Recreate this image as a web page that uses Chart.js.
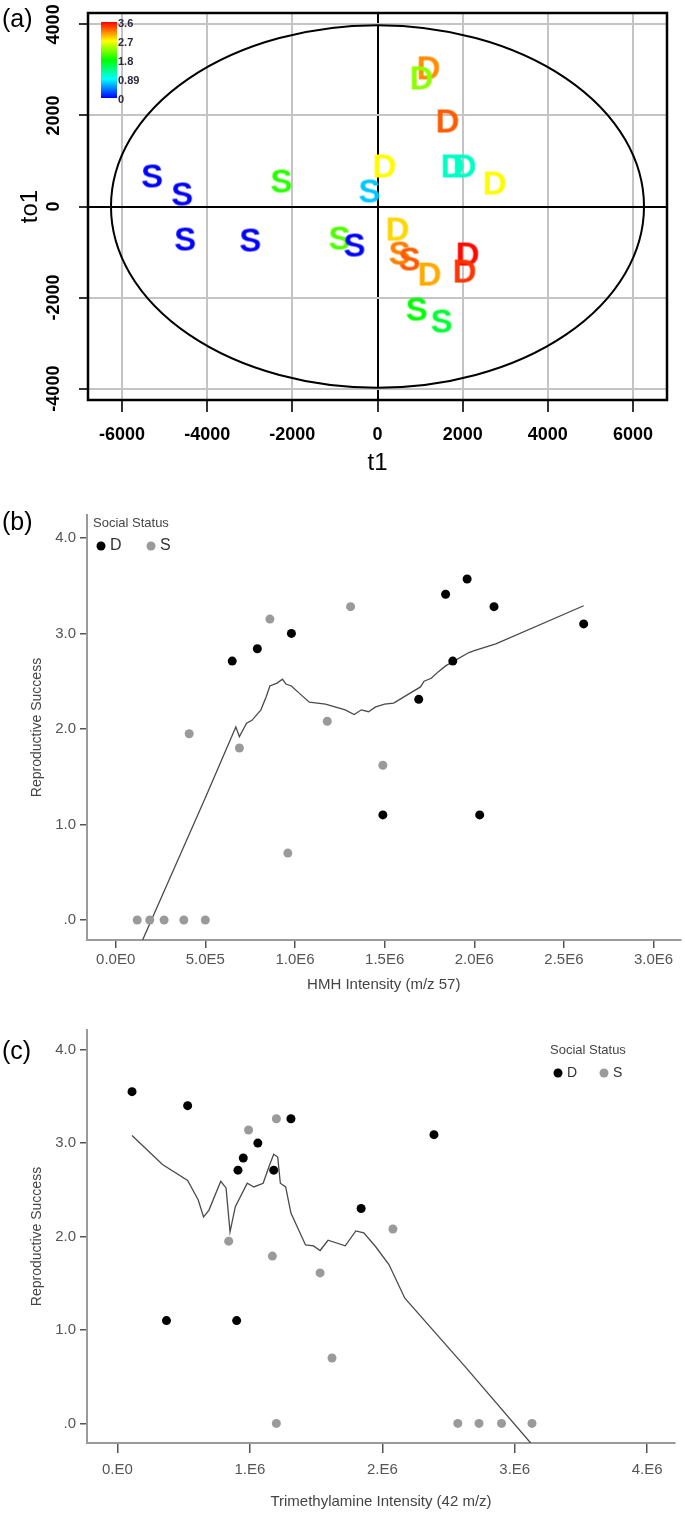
<!DOCTYPE html>
<html>
<head>
<meta charset="utf-8">
<script src="https://cdn.jsdelivr.net/npm/chart.js@4"></script>
<style>
  body { margin: 0; background: #fff; width: 685px; height: 1513px; position: relative; overflow: hidden; }
  canvas { position: absolute; left: 0; }
</style>
</head>
<body>
<canvas id="plsChart" width="685" height="485" style="top:0px"></canvas>
<canvas id="hmhChart" width="685" height="510" style="top:490px"></canvas>
<canvas id="tmaChart" width="685" height="508" style="top:1005px"></canvas>
<script>
/* (a) OPLS-DA scores, letter = social status, colour = reproductive success */
const plsGroup = ['S','S','S','S','S','S','S','S','D','D','D','D','D','D','D','D','S','S','D','D','D','S','S'];
const plsT1    = [-5294,-4588,-2259,-188,-4518,-2988,-894,-541, 1200,1035,1647,165,1765,2047,2753,471, 518,753,1224,2118,2047, 918,1506];
const plsTo1   = [681,286,571,352,-703,-725,-681,-835, 3055,2835,1890,901,901,901,527,-484, -1011,-1143,-1473,-1033,-1407, -2242,-2505];
const plsRS    = [0,0,1.95,0.7,0,0,2.08,0, 3.1,2.3,3.28,2.71,1.1,1.1,2.71,2.84, 3.15,3.28,3.0,3.57,3.41, 1.8,1.62];
const t1Ticks  = [-6000,-4000,-2000,0,2000,4000,6000];
const to1Ticks = [-4000,-2000,0,2000,4000];
const colorbarTicks = [3.6, 2.7, 1.8, 0.89, 0];
const ellipseAxes = [6260, 3980];

/* (b) HMH intensity vs reproductive success */
const hmhDomX = [0.65e6,0.79e6,0.98e6,1.69e6,1.88e6,1.84e6,1.96e6,2.11e6,2.61e6,1.49e6,2.03e6];
const hmhDomY = [2.71,2.84,3.0,2.31,2.71,3.41,3.57,3.28,3.10,1.1,1.1];
const hmhSubX = [0.12e6,0.19e6,0.27e6,0.38e6,0.50e6,0.41e6,0.69e6,0.86e6,1.31e6,1.18e6,1.49e6,0.96e6];
const hmhSubY = [0,0,0,0,0,1.95,1.80,3.15,3.28,2.08,1.62,0.70];
const hmhFitX = [0.15e6,0.50e6,0.67e6,0.69e6,0.73e6,0.76e6,0.81e6,0.84e6,0.86e6,0.90e6,0.93e6,0.95e6,0.98e6,1.02e6,1.08e6,1.17e6,1.28e6,1.33e6,1.37e6,1.41e6,1.45e6,1.50e6,1.55e6,1.70e6,1.72e6,1.76e6,1.80e6,1.84e6,1.97e6,2.00e6,2.12e6,2.61e6];
const hmhFitY = [-0.21,1.28,2.02,1.92,2.06,2.09,2.20,2.34,2.45,2.48,2.52,2.47,2.45,2.38,2.28,2.26,2.20,2.15,2.20,2.18,2.23,2.26,2.27,2.44,2.50,2.53,2.60,2.66,2.80,2.82,2.89,3.29];
const hmhTicks = [0,500000,1000000,1500000,2000000,2500000,3000000];

/* (c) trimethylamine intensity vs reproductive success */
const tmaDomX = [0.11e6,0.53e6,1.31e6,1.06e6,0.95e6,0.91e6,1.18e6,1.84e6,2.39e6,0.37e6,0.90e6];
const tmaDomY = [3.55,3.40,3.26,3.0,2.84,2.71,2.71,2.30,3.09,1.10,1.10];
const tmaSubX = [0.99e6,1.20e6,2.08e6,0.84e6,1.17e6,1.53e6,1.62e6,1.20e6,2.57e6,2.73e6,2.90e6,3.13e6];
const tmaSubY = [3.14,3.26,2.08,1.95,1.79,1.61,0.70,0,0,0,0,0];
const tmaFitX = [0.11e6,0.34e6,0.53e6,0.61e6,0.65e6,0.69e6,0.78e6,0.82e6,0.85e6,0.89e6,0.98e6,1.03e6,1.10e6,1.15e6,1.18e6,1.21e6,1.23e6,1.27e6,1.31e6,1.42e6,1.48e6,1.53e6,1.59e6,1.72e6,1.80e6,1.86e6,1.95e6,2.05e6,2.17e6,2.63e6,3.12e6];
const tmaFitY = [3.08,2.77,2.60,2.39,2.21,2.28,2.59,2.52,2.05,2.32,2.57,2.53,2.57,2.77,2.88,2.85,2.57,2.53,2.25,1.91,1.90,1.85,1.96,1.90,2.06,2.04,1.89,1.70,1.34,0.60,-0.21];
const tmaTicks = [0,1000000,2000000,3000000,4000000];

const rsTicks = [0,1,2,3,4];

const FONT = '"Liberation Sans", Arial, sans-serif';

// blue -> cyan -> green -> yellow -> red over 0..3.6
function rainbow(v) {
    const stops = [[0,0,255],[0,255,255],[0,255,0],[255,255,0],[255,0,0]];
    const t = Math.max(0, Math.min(1, v / 3.6)) * 4;
    const i = Math.min(3, Math.floor(t)), f = t - i;
    const a = stops[i], b = stops[i + 1];
    return 'rgb(' + a.map((c, k) => Math.round(c + (b[k] - c) * f)).join(',') + ')';
}

function letterSprite(letter, color) {
    const c = document.createElement('canvas');
    c.width = 32; c.height = 34;
    const g = c.getContext('2d');
    g.font = 'bold 33px ' + FONT;
    g.fillStyle = color;
    g.textAlign = 'center';
    g.textBaseline = 'alphabetic';
    g.fillText(letter, 16, 17 + 0.716 * 33 / 2);
    return c;
}

function fixedTicks(values) {
    return s => { s.ticks = values.map(v => ({ value: v })); };
}

const plsDecor = {
    id: 'plsDecor',
    beforeDatasetsDraw(chart) {
        const { ctx, scales: { x, y } } = chart;
        const cx = x.getPixelForValue(0), cy = y.getPixelForValue(0);
        ctx.save();
        ctx.beginPath();
        ctx.ellipse(cx, cy, x.getPixelForValue(ellipseAxes[0]) - cx, cy - y.getPixelForValue(ellipseAxes[1]), 0, 0, 2 * Math.PI);
        ctx.lineWidth = 2;
        ctx.strokeStyle = '#000';
        ctx.stroke();
        ctx.restore();
    },
    afterDraw(chart) {
        const { ctx, chartArea: { left, top, right, bottom }, scales: { y } } = chart;
        ctx.save();
        ctx.strokeStyle = '#000';
        ctx.lineWidth = 2.5;
        ctx.strokeRect(left, top, right - left, bottom - top);

        // rotated y tick labels
        ctx.font = 'bold 18px ' + FONT;
        ctx.fillStyle = '#000';
        ctx.textAlign = 'center';
        ctx.textBaseline = 'middle';
        y.ticks.forEach(t => {
            ctx.save();
            ctx.translate(left - 34, y.getPixelForValue(t.value));
            ctx.rotate(-Math.PI / 2);
            ctx.fillText(String(t.value), 0, 0);
            ctx.restore();
        });

        // colour key
        const kx = 101, ky = 22, kw = 16, kh = 76;
        const grad = ctx.createLinearGradient(0, ky + kh, 0, ky);
        for (let i = 0; i <= 8; i++) grad.addColorStop(i / 8, rainbow(3.6 * i / 8));
        ctx.fillStyle = grad;
        ctx.fillRect(kx, ky, kw, kh);
        ctx.font = 'bold 11px ' + FONT;
        ctx.fillStyle = '#2a2a3a';
        ctx.textAlign = 'left';
        colorbarTicks.forEach(v => {
            ctx.fillText(String(v), kx + kw + 1, ky + 2 + (3.6 - v) / 3.6 * kh);
        });

        ctx.font = '25px ' + FONT;
        ctx.fillStyle = '#000';
        ctx.fillText('(a)', 2, 20);
        ctx.restore();
    }
};

new Chart(document.getElementById('plsChart'), {
    type: 'scatter',
    data: {
        datasets: [{
            label: 'OPLS-DA scores',
            data: plsT1.map((v, i) => ({ x: v, y: plsTo1[i] })),
            pointStyle: plsGroup.map((g, i) => letterSprite(g, rainbow(plsRS[i]))),
            pointRadius: 10,
        }]
    },
    options: {
        responsive: false,
        animation: false,
        layout: { padding: { top: 13, right: 18, left: 0, bottom: 0 } },
        plugins: { legend: { display: false }, tooltip: { enabled: false } },
        scales: {
            x: {
                min: -6800, max: 6800,
                afterBuildTicks: fixedTicks(t1Ticks),
                ticks: { maxRotation: 0, autoSkip: false, padding: 12, color: '#000',
                         font: { family: FONT, size: 18, weight: 'bold' }, callback: v => String(v) },
                grid: { color: c => c.tick && c.tick.value === 0 ? '#000' : '#c4c4c4', lineWidth: 2, tickColor: '#333', tickLength: 12 },
                border: { display: false },
                title: { display: true, text: 't1', color: '#000', font: { family: FONT, size: 24, lineHeight: 1 }, padding: { bottom: 10 } },
                afterFit(s) { s.height = 85; s.paddingLeft = 0; s.paddingRight = 0; }
            },
            y: {
                min: -4250, max: 4250,
                afterBuildTicks: fixedTicks(to1Ticks),
                ticks: { display: false },
                grid: { color: c => c.tick && c.tick.value === 0 ? '#000' : '#c4c4c4', lineWidth: 2, tickColor: '#333', tickLength: 9 },
                border: { display: false },
                title: { display: true, text: 'to1', color: '#000', font: { family: FONT, size: 24, lineHeight: 1 }, padding: { top: 18 } },
                afterFit(s) { s.width = 88; s.paddingTop = 0; s.paddingBottom = 0; }
            }
        }
    },
    plugins: [plsDecor]
});

/* (b), (c) */
const statusLegend = {
    id: 'statusLegend',
    afterDraw(chart, args, opts) {
        const { ctx } = chart;
        ctx.save();
        ctx.textBaseline = 'middle';
        ctx.textAlign = 'left';
        ctx.font = '13px ' + FONT;
        ctx.fillStyle = '#444';
        ctx.fillText('Social Status', opts.x, opts.y);
        chart.data.datasets.filter(d => !d.showLine).forEach((d, i) => {
            const cx = opts.x + 8 + i * opts.gap;
            ctx.beginPath();
            ctx.arc(cx, opts.y + 23, 4.5, 0, 2 * Math.PI);
            ctx.fillStyle = d.backgroundColor;
            ctx.fill();
            ctx.fillStyle = '#333';
            ctx.font = opts.itemSize + 'px ' + FONT;
            ctx.fillText(d.label, cx + 9, opts.y + 23);
        });
        ctx.font = '25px ' + FONT;
        ctx.fillStyle = '#000';
        ctx.fillText(opts.panel, 2, opts.panelY);
        ctx.restore();
    }
};

function sciLabel(v, oneDecimal) {
    if (v === 0) return oneDecimal ? '0.0E0' : '0.E0';
    const e = Math.floor(Math.log10(Math.abs(v)));
    const m = v / Math.pow(10, e);
    return (oneDecimal ? m.toFixed(1) : Math.round(m) + '.') + 'E' + e;
}

function statusChart(id, cfg) {
    return new Chart(document.getElementById(id), {
        type: 'scatter',
        data: {
            datasets: [
                { label: 'D', data: cfg.domX.map((v, i) => ({ x: v, y: cfg.domY[i] })), backgroundColor: '#000', pointRadius: 4.5, borderWidth: 0, order: 1 },
                { label: 'S', data: cfg.subX.map((v, i) => ({ x: v, y: cfg.subY[i] })), backgroundColor: '#9a9a9a', pointRadius: 4.5, borderWidth: 0, order: 2 },
                { label: 'fit', data: cfg.fitX.map((v, i) => ({ x: v, y: cfg.fitY[i] })), showLine: true, borderColor: '#4a4a4a', borderWidth: 1.3, pointRadius: 0, order: 3 }
            ]
        },
        options: {
            responsive: false,
            animation: false,
            layout: { padding: { top: 25, right: cfg.right, left: 0, bottom: 0 } },
            plugins: { legend: { display: false }, tooltip: { enabled: false }, statusLegend: cfg.legend },
            scales: {
                x: {
                    min: cfg.xMin, max: cfg.xMax,
                    afterBuildTicks: fixedTicks(cfg.xTicks),
                    ticks: { maxRotation: 0, autoSkip: false, padding: cfg.xPad, color: '#555',
                             font: { family: FONT, size: 15 }, callback: v => sciLabel(v, cfg.oneDecimal) },
                    grid: { drawOnChartArea: false, tickLength: cfg.xTick, tickColor: '#555', lineWidth: 1.5 },
                    border: { color: '#9a9a9a', width: 2 },
                    title: { display: true, text: cfg.xTitle, color: '#444', font: { family: FONT, size: 15 }, padding: { bottom: cfg.titlePad } },
                    afterFit(s) { s.height = cfg.xHeight; s.paddingLeft = 0; s.paddingRight = 0; }
                },
                y: {
                    min: -0.21, max: cfg.yMax,
                    afterBuildTicks: fixedTicks(rsTicks),
                    ticks: { padding: 4, color: '#555', font: { family: FONT, size: 15 },
                             callback: v => v === 0 ? '.0' : v.toFixed(1) },
                    grid: { drawOnChartArea: false, tickLength: 7, tickColor: '#555', lineWidth: 1.5 },
                    border: { color: '#9a9a9a', width: 2 },
                    title: { display: true, text: 'Reproductive Success', color: '#444', font: { family: FONT, size: 14 }, padding: { top: 29 } },
                    afterFit(s) { s.width = 87; s.paddingTop = 0; s.paddingBottom = 0; }
                }
            }
        },
        plugins: [statusLegend]
    });
}

statusChart('hmhChart', {
    domX: hmhDomX, domY: hmhDomY, subX: hmhSubX, subY: hmhSubY, fitX: hmhFitX, fitY: hmhFitY, xTicks: hmhTicks,
    xMin: -160000, xMax: 3150000, oneDecimal: true, yMax: 4.24,
    xTitle: 'HMH Intensity (m/z 57)', right: 2, xPad: 3, xTick: 8, xHeight: 60, titlePad: 6,
    legend: { x: 93, y: 33, gap: 50, itemSize: 16, panel: '(b)', panelY: 33 }
});

statusChart('tmaChart', {
    domX: tmaDomX, domY: tmaDomY, subX: tmaSubX, subY: tmaSubY, fitX: tmaFitX, fitY: tmaFitY, xTicks: tmaTicks,
    xMin: -230000, xMax: 4210000, oneDecimal: false, yMax: 4.21,
    xTitle: 'Trimethylamine Intensity (42 m/z)', right: 10, xPad: 8, xTick: 10, xHeight: 70, titlePad: 2,
    legend: { x: 550, y: 45, gap: 46, itemSize: 14, panel: '(c)', panelY: 47 }
});
</script>
</body>
</html>
